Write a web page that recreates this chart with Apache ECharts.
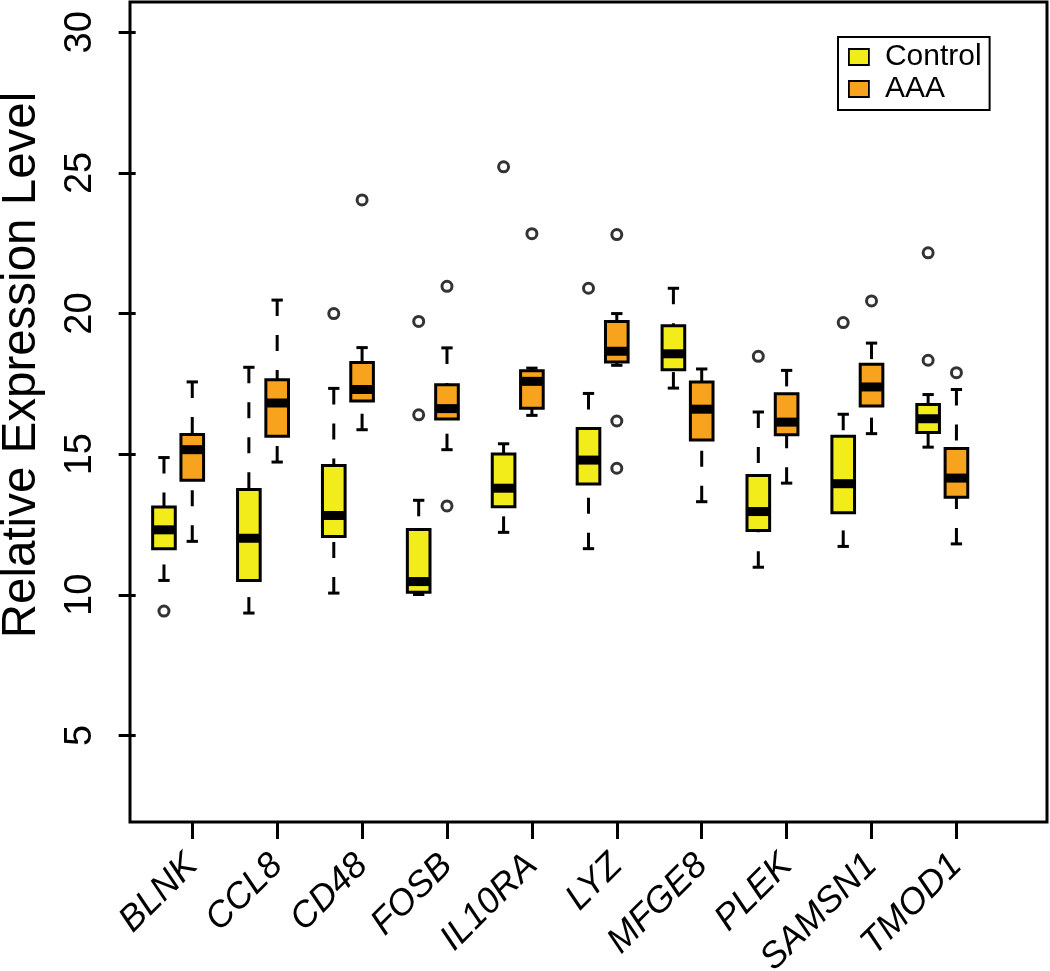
<!DOCTYPE html>
<html><head><meta charset="utf-8">
<script src="https://cdn.jsdelivr.net/npm/echarts@6/dist/echarts.min.js"></script>
<style>html,body{margin:0;padding:0;background:#fff}#c{width:1050px;height:971px}</style>
</head><body><div id="c"></div>
<script>
// ---- data ----
const genes = ['BLNK','CCL8','CD48','FOSB','IL10RA','LYZ','MFGE8','PLEK','SAMSN1','TMOD1'];
const groups = ['Control','AAA'];
// [lower whisker, Q1, median, Q3, upper whisker]
const controlStats = [
  [10.51, 11.64, 12.31, 13.12, 14.88],
  [ 9.35, 10.51, 12.01, 13.74, 18.09],
  [10.06, 12.07, 12.82, 14.60, 17.34],
  [10.01, 10.09, 10.47, 12.32, 13.36],
  [12.22, 13.13, 13.79, 15.01, 15.37],
  [11.64, 13.94, 14.79, 15.91, 17.16],
  [17.35, 18.00, 18.57, 19.57, 20.90],
  [10.98, 12.29, 12.96, 14.24, 16.50],
  [11.72, 12.92, 13.95, 15.64, 16.42],
  [15.25, 15.77, 16.26, 16.77, 17.12]
];
const aaaStats = [
  [11.90, 14.07, 15.16, 15.70, 17.57],
  [14.72, 15.64, 16.82, 17.65, 20.48],
  [15.87, 16.89, 17.30, 18.26, 18.79],
  [15.16, 16.25, 16.62, 17.47, 18.78],
  [16.38, 16.63, 17.59, 17.97, 18.06],
  [18.16, 18.28, 18.66, 19.72, 20.00],
  [13.31, 15.50, 16.60, 17.57, 18.03],
  [13.97, 15.69, 16.14, 17.15, 17.98],
  [15.73, 16.71, 17.39, 18.20, 18.95],
  [11.81, 13.47, 14.15, 15.20, 17.30]
];
// [gene index, value]
const controlOutliers = [[0, 9.42],[2, 20.00],[3, 16.40],[3, 19.72],[4, 25.22],[5, 20.90],[7, 18.48],[8, 19.68],[9, 18.34],[9, 22.16]];
const aaaOutliers = [[2, 24.04],[3, 13.16],[3, 20.97],[4, 22.84],[5, 14.50],[5, 16.18],[5, 22.81],[8, 20.45],[9, 17.90]];
const yTicks = [5, 10, 15, 20, 25, 30];

// ---- layout / style ----
const CONTROL_COLOR = '#F3EC1B';
const AAA_COLOR = '#F8A31D';
const FONT = 'Liberation Sans, Arial, Helvetica, sans-serif';
const posControl = i => 3 * i + 1;
const posAAA = i => 3 * i + 2;
const BOX_HALF = 0.4, CAP_HALF = 0.2;
const geneTicks = genes.map((g, i) => posAAA(i));

function boxData(stats, pos) { return stats.map((s, i) => [pos(i)].concat(s)); }
function outlierData(list, pos) { return list.map(o => [pos(o[0]), o[1]]); }

function makeRender(color) {
  return function (params, api) {
    const x = api.value(0);
    const lo = api.coord([x, api.value(1)]);
    const q1 = api.coord([x, api.value(2)]);
    const md = api.coord([x, api.value(3)]);
    const q3 = api.coord([x, api.value(4)]);
    const hi = api.coord([x, api.value(5)]);
    const hw = api.size([BOX_HALF, 0])[0];
    const cw = api.size([CAP_HALF, 0])[0];
    const cx = lo[0];
    const lw = 3;
    const ln = (x1, y1, x2, y2, w, dash) => ({
      type: 'line', shape: {x1, y1, x2, y2},
      style: {stroke: '#000', lineWidth: w, lineDash: dash || null, lineCap: 'butt'}
    });
    return {
      type: 'group',
      children: [
        ln(cx, hi[1], cx, q3[1], lw, [16, 19]),
        ln(cx, lo[1], cx, q1[1], lw, [16, 19]),
        ln(cx - cw, hi[1], cx + cw, hi[1], lw),
        ln(cx - cw, lo[1], cx + cw, lo[1], lw),
        {type: 'rect', shape: {x: cx - hw, y: q3[1], width: 2 * hw, height: q1[1] - q3[1]},
         style: {fill: color, stroke: '#000', lineWidth: lw}},
        ln(cx - hw, md[1], cx + hw, md[1], 9)
      ]
    };
  };
}

const chart = echarts.init(document.getElementById('c'), null, {renderer: 'canvas'});
chart.setOption({
  animation: false,
  backgroundColor: '#fff',
  grid: {left: 130, right: 3, top: 2, bottom: 149, show: true, borderColor: '#000', borderWidth: 3,
         backgroundColor: 'transparent', containLabel: false, outerBoundsMode: 'none'},
  legend: {
    orient: 'vertical', left: 838, top: 37, icon: 'rect',
    itemWidth: 20, itemHeight: 16, itemGap: 2,
    padding: [5, 8, 6, 10], borderColor: '#000', borderWidth: 2,
    textStyle: {fontSize: 30, fontFamily: FONT, color: '#000', lineHeight: 30, padding: [0, 0, 0, 11]},
    data: [
      {name: 'Control', itemStyle: {color: CONTROL_COLOR, borderColor: '#000', borderWidth: 1.8}},
      {name: 'AAA', itemStyle: {color: AAA_COLOR, borderColor: '#000', borderWidth: 1.8}}
    ]
  },
  xAxis: {
    type: 'value', min: -0.2, max: 32.2,
    axisLine: {show: false},
    splitLine: {show: false},
    axisTick: {show: true, customValues: geneTicks, length: 17, lineStyle: {color: '#000', width: 3}},
    axisLabel: {
      customValues: geneTicks, rotate: 45, margin: 38,
      fontSize: 36, fontStyle: 'italic', fontFamily: FONT, color: '#000',
      formatter: v => genes[Math.round((v - 2) / 3)]
    }
  },
  yAxis: {
    type: 'value', min: 1.92, max: 31.08,
    axisLine: {show: false},
    splitLine: {show: false},
    axisTick: {show: true, customValues: yTicks, length: 17, lineStyle: {color: '#000', width: 3}},
    axisLabel: {customValues: yTicks, rotate: 90, margin: 30, fontSize: 38, fontFamily: FONT, color: '#000'},
    name: 'Relative Expression Level', nameLocation: 'middle', nameGap: 84,
    nameTextStyle: {fontSize: 47.5, fontFamily: FONT, color: '#000', padding: [0, 0, 0, 94]}
  },
  series: [
    {name: 'Control', type: 'custom', renderItem: makeRender(CONTROL_COLOR),
     itemStyle: {color: CONTROL_COLOR}, encode: {x: 0, y: [1, 2, 3, 4, 5]},
     data: boxData(controlStats, posControl), z: 2},
    {name: 'AAA', type: 'custom', renderItem: makeRender(AAA_COLOR),
     itemStyle: {color: AAA_COLOR}, encode: {x: 0, y: [1, 2, 3, 4, 5]},
     data: boxData(aaaStats, posAAA), z: 2},
    {name: 'Control outliers', type: 'scatter', symbol: 'circle', symbolSize: 10,
     itemStyle: {color: '#fff', borderColor: '#000', borderWidth: 3},
     data: outlierData(controlOutliers, posControl), z: 3},
    {name: 'AAA outliers', type: 'scatter', symbol: 'circle', symbolSize: 10,
     itemStyle: {color: '#fff', borderColor: '#000', borderWidth: 3},
     data: outlierData(aaaOutliers, posAAA), z: 3}
  ]
});
</script>
</body></html>
